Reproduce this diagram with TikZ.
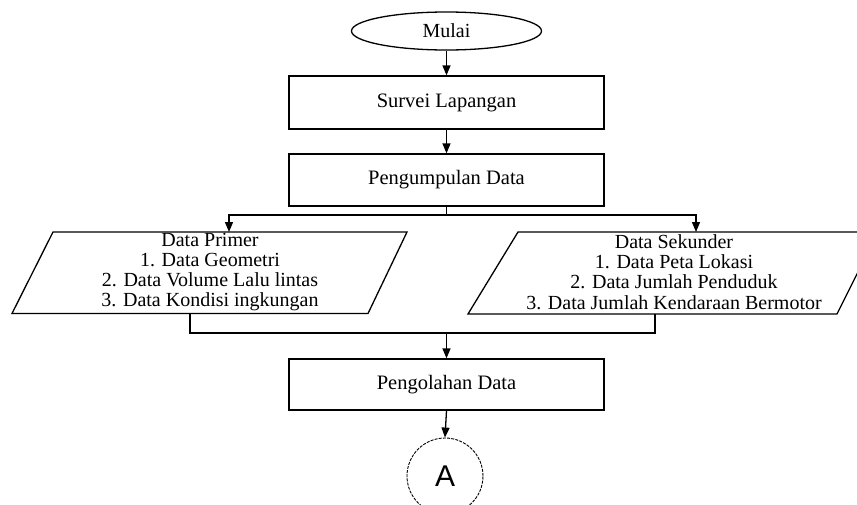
\documentclass[tikz,border=0pt]{standalone}
\usepackage{fontspec}
\setmainfont{Liberation Serif}
\newfontfamily\arialfont{Liberation Sans}
\usetikzlibrary{arrows.meta,shapes.geometric}
\begin{document}
\begin{tikzpicture}[x=1pt,y=-1pt,line width=1.3pt,
  box/.style={draw,rectangle,minimum width=315pt,inner sep=0pt,font=\fontsize{20.5}{22}\selectfont},
  arr/.style={-{Triangle[length=10pt,width=8pt]}},
  txt/.style={align=center,inner sep=0pt,font=\fontsize{20}{20.3}\selectfont},
  para/.style={draw,line join=miter}]
\useasboundingbox (0,0) rectangle (857,504);
\clip (0,0) rectangle (857,504);
% nodes
\node[draw,ellipse,minimum width=190pt,minimum height=38pt,inner sep=0pt,
      font=\fontsize{20}{20}\selectfont] (mulai) at (446.5,31) {Mulai};
\node[box,minimum height=53pt] (survei) at (446.5,102.5) {Survei Lapangan};
\node[box,minimum height=52pt] (kumpul) at (446.5,180) {Pengumpulan Data};
\node[box,minimum height=51pt] (olah) at (446.5,384.5) {Pengolahan Data};
\node[draw,circle,minimum size=76pt,inner sep=0pt,line width=0.9pt,
      dash pattern=on 3pt off 1.2pt,font=\arialfont\fontsize{30}{32}\selectfont] (A) at (445,476) {A};
% parallelograms
\draw[para] (53,232) -- (407,232) -- (368,313.5) -- (12,313.5) -- cycle;
\draw[para] (518,232) -- (878,232) -- (837,314) -- (468,314) -- cycle;
\node[txt] (primer) at (210,272) {Data Primer\\1. Data Geometri\\2. Data Volume Lalu lintas\\3. Data Kondisi ingkungan};
\node[txt] (sekunder) at (674,272) {Data Sekunder\\1. Data Peta Lokasi\\2. Data Jumlah Penduduk\\3. Data Jumlah Kendaraan Bermotor};
% coordinates
\coordinate (j1) at (446.5,215);
\coordinate (p1top) at (229,232);
\coordinate (p2top) at (696,232);
\coordinate (p1bot) at (190,313.5);
\coordinate (p2bot) at (655,314);
\coordinate (j2) at (446.5,333);
% connectors
\draw[arr] (mulai.south) -- (survei.north);
\draw[arr] (survei.south) -- (kumpul.north);
\draw (kumpul.south) -- (j1);
\draw[arr] (j1) -| (p1top);
\draw[arr] (j1) -| (p2top);
\draw (p1bot) |- (j2);
\draw (p2bot) |- (j2);
\draw[arr] (j2) -- (olah.north);
\draw[arr] (olah.south) -- (A.north);
\end{tikzpicture}
\end{document}
